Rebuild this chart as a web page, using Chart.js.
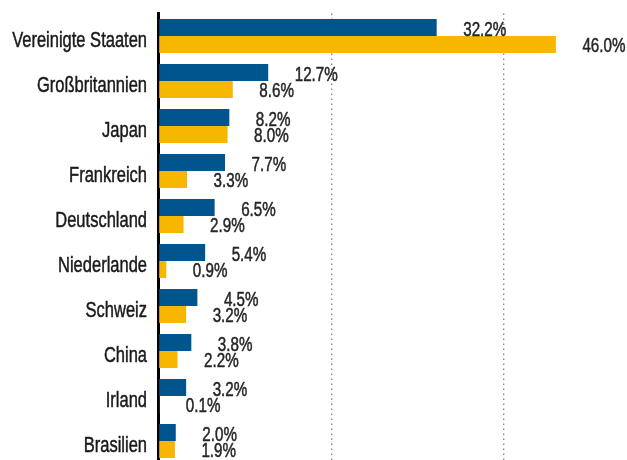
<!DOCTYPE html>
<html><head><meta charset="utf-8">
<script src="https://cdn.jsdelivr.net/npm/chart.js@4/dist/chart.umd.min.js"></script>
<style>html,body{margin:0;padding:0;overflow:hidden;background:#fff}#wrap{width:627px;height:465px}</style>
</head><body><div id="wrap"><canvas id="c"></canvas></div>
<script>
const categories = ["Vereinigte Staaten","Großbritannien","Japan","Frankreich","Deutschland","Niederlande","Schweiz","China","Irland","Brasilien"];
const seriesBlue = [32.2,12.7,8.2,7.7,6.5,5.4,4.5,3.8,3.2,2.0];
const seriesYellow = [46.0,8.6,8.0,3.3,2.9,0.9,3.2,2.2,0.1,1.9];
const xTicks = [0,20,40];
const FONT = "'Liberation Sans',Arial,sans-serif";

function narrowText(ctx, txt, x, y, sx, align){
  ctx.save();
  ctx.translate(x, y);
  ctx.scale(sx, 1);
  ctx.textAlign = align;
  ctx.fillText(txt, 0, 0);
  ctx.strokeText(txt, 0, 0);
  ctx.restore();
}

const textPlugin = {
  id:'texts',
  afterDatasetsDraw(chart){
    const ctx = chart.ctx;
    ctx.save();
    ctx.textBaseline = "alphabetic";
    ctx.lineWidth = 0.5;
    ctx.lineJoin = 'round';
    // value labels
    ctx.font = "20px " + FONT;
    ctx.fillStyle = "#262626";
    ctx.strokeStyle = "#262626";
    chart.data.datasets.forEach((ds,i)=>{
      chart.getDatasetMeta(i).data.forEach((bar,j)=>{
        narrowText(ctx, ds.data[j].toFixed(1)+"%", bar.x + 26.5, bar.y + 8, 0.76, 'left');
      });
    });
    // category labels
    const y = chart.scales.y;
    ctx.font = "22px " + FONT;
    ctx.fillStyle = "#1a1a1a";
    ctx.strokeStyle = "#1a1a1a";
    chart.data.labels.forEach((lab,i)=>{
      narrowText(ctx, lab, y.right - 11.5, y.getPixelForTick(i) + 11, 0.75, 'right');
    });
    ctx.restore();
  }
};

new Chart(document.getElementById('c'),{
  type:'bar',
  data:{labels:categories,datasets:[
    {data:seriesBlue,backgroundColor:'#00558f',categoryPercentage:0.755,barPercentage:1.0},
    {data:seriesYellow,backgroundColor:'#f7b600',categoryPercentage:0.755,barPercentage:1.0}
  ]},
  options:{
    indexAxis:'y',responsive:true,maintainAspectRatio:false,animation:false,
    layout:{padding:{top:13.5,bottom:1.5,right:2,left:0}},
    plugins:{legend:{display:false},tooltip:{enabled:false}},
    scales:{
      x:{min:0,max:54,
        afterBuildTicks(s){s.ticks = xTicks.map(v=>({value:v}));},
        ticks:{display:false},
        border:{display:false,dash:[1.5,3.5]},
        grid:{drawTicks:false,color:c=>c.tick && c.tick.value===0?'rgba(0,0,0,0)':'#888',lineWidth:1.4}
      },
      y:{z:1,
        afterFit(s){s.width=158.5;},
        grid:{display:false,drawTicks:false},
        border:{display:true,color:'#000',width:3},
        ticks:{display:false}
      }
    }
  },
  plugins:[textPlugin]
});
</script></body></html>
